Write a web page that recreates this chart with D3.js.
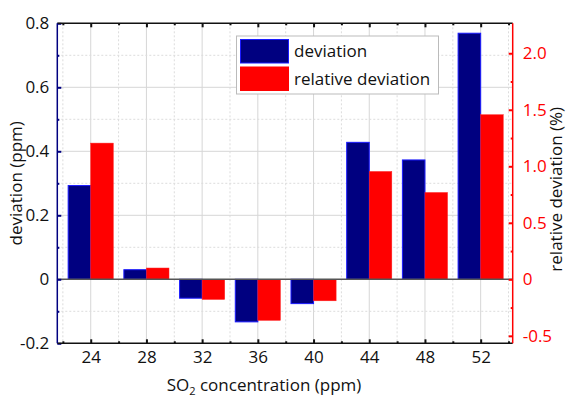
<!DOCTYPE html>
<html>
<head>
<meta charset="utf-8">
<script src="https://cdn.jsdelivr.net/npm/d3@7"></script>
<style>
  html, body { margin: 0; padding: 0; background: #fff; }
  svg { display: block; font-family: "Open Sans", "Noto Sans", sans-serif; }
</style>
</head>
<body>
<svg id="chart" width="569" height="401"></svg>
<script>
// ---- data ----
const categories = [24, 28, 32, 36, 40, 44, 48, 52];
const deviation = [0.293, 0.030, -0.059, -0.133, -0.076, 0.428, 0.373, 0.769];
const relDeviation = [1.205, 0.100, -0.178, -0.363, -0.190, 0.954, 0.768, 1.456];
const xMajorTicks = [24, 28, 32, 36, 40, 44, 48, 52];
const xMinorTicks = [22, 26, 30, 34, 38, 42, 46, 50, 54];
const leftMajorTicks = [-0.2, 0, 0.2, 0.4, 0.6, 0.8];
const leftMinorTicks = [-0.1, 0.1, 0.3, 0.5, 0.7];
const rightMajorTicks = [-0.5, 0, 0.5, 1.0, 1.5, 2.0];
const rightMinorTicks = [-0.25, 0.25, 0.75, 1.25, 1.75];
const seriesNames = ["deviation", "relative deviation"];

// ---- layout ----
const L = 57.3, R = 512.7, T = 23.3, B = 343.3;
const svg = d3.select("#chart");

const x = d3.scaleLinear().domain([21.6, 54.3]).range([L, R]);
const yL = d3.scaleLinear().domain([-0.2, 0.8]).range([B, T]);
const yR = d3.scaleLinear().domain([-0.566, 2.265]).range([B, T]);
const barW = 1.62; // in x units

const blueFill = "#000080", blueStroke = "#1a1aff", redFill = "#ff0000";
const fmt = v => v === 0 ? "0" : d3.format(".1f")(v).replace("−", "-");

// ---- grid ----
const grid = svg.append("g");
grid.selectAll("line.vmaj").data(xMajorTicks).join("line")
  .attr("x1", d => x(d)).attr("x2", d => x(d)).attr("y1", T).attr("y2", B)
  .attr("stroke", "#d6d6d6").attr("stroke-width", 1);
grid.selectAll("line.vmin").data(xMinorTicks).join("line")
  .attr("x1", d => x(d)).attr("x2", d => x(d)).attr("y1", T).attr("y2", B)
  .attr("stroke", "#dcdcdc").attr("stroke-width", 1).attr("stroke-dasharray", "2,2");
grid.selectAll("line.hmaj").data(leftMajorTicks.filter(d => d !== 0 && d !== 0.8 && d !== -0.2)).join("line")
  .attr("x1", L).attr("x2", R).attr("y1", d => yL(d)).attr("y2", d => yL(d))
  .attr("stroke", "#d6d6d6").attr("stroke-width", 1);
grid.selectAll("line.hmin").data(leftMinorTicks).join("line")
  .attr("x1", L).attr("x2", R).attr("y1", d => yL(d)).attr("y2", d => yL(d))
  .attr("stroke", "#dcdcdc").attr("stroke-width", 1).attr("stroke-dasharray", "2,2");

// ---- bars ----
const bars = svg.append("g");
bars.selectAll("rect.dev").data(categories).join("rect")
  .attr("x", (d) => x(d - barW))
  .attr("width", (d) => x(d) - x(d - barW))
  .attr("y", (d, i) => yL(Math.max(0, deviation[i])))
  .attr("height", (d, i) => Math.abs(yL(deviation[i]) - yL(0)))
  .attr("fill", blueFill).attr("stroke", blueStroke).attr("stroke-width", 1);
bars.selectAll("rect.rel").data(categories).join("rect")
  .attr("x", (d) => x(d))
  .attr("width", (d) => x(d + barW) - x(d))
  .attr("y", (d, i) => yR(Math.max(0, relDeviation[i])))
  .attr("height", (d, i) => Math.abs(yR(relDeviation[i]) - yR(0)))
  .attr("fill", redFill).attr("stroke", "#ff2020").attr("stroke-width", 0.5);

// zero line
svg.append("line").attr("x1", L).attr("x2", R).attr("y1", yL(0)).attr("y2", yL(0))
  .attr("stroke", "#555").attr("stroke-width", 1.5);

// ---- axes ----
function styleAxis(g, color, fontColor, size) {
  g.select(".domain").remove();
  g.selectAll(".tick line").attr("stroke", color).attr("stroke-width", 2);
  g.selectAll(".tick text").attr("fill", fontColor).attr("font-size", size)
    .attr("font-family", "'Open Sans', sans-serif");
}
const TF = 17;
// bottom
const gB = svg.append("g").attr("transform", `translate(0,${B})`)
  .call(d3.axisBottom(x).tickValues(xMajorTicks).tickSize(-4).tickPadding(8).tickFormat(d3.format("d")));
styleAxis(gB, "#111", "#111", TF);
const gBm = svg.append("g").attr("transform", `translate(0,${B})`)
  .call(d3.axisBottom(x).tickValues(xMinorTicks).tickSize(-2).tickFormat(""));
styleAxis(gBm, "#111", "#111", TF);
// top
const gT = svg.append("g").attr("transform", `translate(0,${T})`)
  .call(d3.axisTop(x).tickValues(xMajorTicks).tickSize(-4).tickFormat(""));
styleAxis(gT, "#111", "#111", TF);
const gTm = svg.append("g").attr("transform", `translate(0,${T})`)
  .call(d3.axisTop(x).tickValues(xMinorTicks).tickSize(-2).tickFormat(""));
styleAxis(gTm, "#111", "#111", TF);
// left
const gL = svg.append("g").attr("transform", `translate(${L},0)`)
  .call(d3.axisLeft(yL).tickValues(leftMajorTicks).tickSize(-4).tickPadding(8).tickFormat(fmt));
styleAxis(gL, "#000080", "#111", TF);
const gLm = svg.append("g").attr("transform", `translate(${L},0)`)
  .call(d3.axisLeft(yL).tickValues(leftMinorTicks).tickSize(-2).tickFormat(""));
styleAxis(gLm, "#000080", "#111", TF);
// right
const gR = svg.append("g").attr("transform", `translate(${R},0)`)
  .call(d3.axisRight(yR).tickValues(rightMajorTicks).tickSize(-4).tickPadding(10).tickFormat(fmt));
styleAxis(gR, "#ff0000", "#ff0000", TF);
const gRm = svg.append("g").attr("transform", `translate(${R},0)`)
  .call(d3.axisRight(yR).tickValues(rightMinorTicks).tickSize(-2).tickFormat(""));
styleAxis(gRm, "#ff0000", "#ff0000", TF);

// frame lines
svg.append("line").attr("x1", L).attr("x2", R).attr("y1", T).attr("y2", T).attr("stroke", "#111").attr("stroke-width", 1.5);
svg.append("line").attr("x1", L).attr("x2", R).attr("y1", B).attr("y2", B).attr("stroke", "#111").attr("stroke-width", 1.5);
svg.append("line").attr("x1", L).attr("x2", L).attr("y1", T).attr("y2", B).attr("stroke", "#000080").attr("stroke-width", 1.5);
svg.append("line").attr("x1", R).attr("x2", R).attr("y1", T).attr("y2", B).attr("stroke", "#ff0000").attr("stroke-width", 1.5);

// ---- titles ----
svg.append("text").attr("transform", `translate(22,${(T + B) / 2}) rotate(-90)`)
  .attr("text-anchor", "middle").attr("font-size", 17).attr("fill", "#111")
  .text("deviation (ppm)");
svg.append("text").attr("transform", `translate(562,${(T + B) / 2 + 6}) rotate(-90)`)
  .attr("text-anchor", "middle").attr("font-size", 17).attr("fill", "#111")
  .text("relative deviation (%)");
const xt = svg.append("text").attr("x", 264).attr("y", 391)
  .attr("text-anchor", "middle").attr("font-size", 17).attr("fill", "#111");
xt.append("tspan").text("SO");
xt.append("tspan").attr("font-size", 11).attr("dy", 4).text("2");
xt.append("tspan").attr("dy", -4).text(" concentration (ppm)");

// ---- legend ----
const lg = svg.append("g");
lg.append("rect").attr("x", 236.5).attr("y", 36).attr("width", 202).attr("height", 58)
  .attr("fill", "#fff").attr("stroke", "#bbb").attr("stroke-width", 1);
const swatch = [[blueFill, blueStroke], [redFill, redFill]];
seriesNames.forEach((name, i) => {
  lg.append("rect").attr("x", 240.5).attr("y", 39.5 + i * 27.5).attr("width", 48).attr("height", 23.5)
    .attr("fill", swatch[i][0]).attr("stroke", swatch[i][1]).attr("stroke-width", 1);
  lg.append("text").attr("x", 294).attr("y", 51.5 + i * 27.5).attr("dy", "0.35em")
    .attr("font-size", 17).attr("fill", "#111").text(name);
});
</script>
</body>
</html>
